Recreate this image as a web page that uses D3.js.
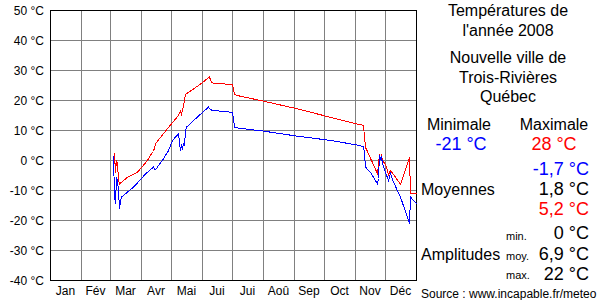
<!DOCTYPE html>
<html><head><meta charset="utf-8">
<script src="https://cdn.jsdelivr.net/npm/d3@7"></script>
<style>body{margin:0;background:#fff}svg{display:block}text{font-family:"Liberation Sans",Arial,sans-serif}</style>
</head><body>
<script>
const months = ["Jan","Fév","Mar","Avr","Mai","Jui","Jui","Aoû","Sep","Oct","Nov","Déc"];
const monthStarts = [0,31,60,91,121,152,182,213,244,274,305,335,366];
const yTicks = [50,40,30,20,10,0,-10,-20,-30,-40];
const maxDays  = [63,64,65,66,67,68,69,77,87,97,101,103,105,117,128,130,131,132,133,135,148,159,161,163,172,182,183,184,190,213,247,280,306,313,314,315,327,329,330,331,332,336,338,340,350,359,360,366];
const maxTemps = [2.2,2.2,-4.0,0.0,-1.0,-6.5,-7.8,-5.6,-3.9,0,2.3,3.0,5.6,10.6,15.0,16.5,15.5,17.0,18.0,22.0,25.0,27.8,26.0,25.8,25.6,25.2,24.0,22.0,21.4,19.8,17.2,14.4,12.2,11.7,7.8,4.4,-4.4,2.0,0.6,1.7,0.2,-2.0,-4.8,-3.3,-7.9,1.0,-10.9,-10.9];
const minDays  = [63,64,65,66,67,68,69,70,71,83,95,103,104,105,113,118,122,128,129,130,131,132,133,134,135,136,145,158,160,163,180,182,183,184,188,213,247,280,306,313,314,315,320,327,328,329,330,331,332,338,340,343,350,359,360,366];
const minTemps = [1.5,-11.7,-14.4,-5.6,-7.0,-10.0,-16.0,-13.5,-12.2,-8.9,-4.5,-2.2,-3.0,-3.1,0.6,3.3,6.7,8.9,6.1,3.3,5.0,4.0,5.5,5.0,10.0,11.1,13.9,17.8,16.9,16.7,16.1,16.1,13.9,11.1,10.8,9.8,8.1,6.7,5.2,4.6,2.2,-2.2,-4.0,-7.8,-6.0,1.7,0.5,1.2,-1.1,-6.7,-4.4,-7.2,-12.2,-21.0,-12.2,-14.4];

const W=600,H=300;
const svg=d3.select("body").append("svg").attr("width",W).attr("height",H);
const x=d3.scaleLinear().domain([0,366]).range([50,416]);
const y=d3.scaleLinear().domain([-40,50]).range([280,10]);

// grid
const g=svg.append("g").attr("shape-rendering","crispEdges");
g.selectAll("line.h").data(yTicks).join("line").attr("class","h")
 .attr("x1",x(0)).attr("x2",x(366)).attr("y1",d=>y(d)+0.5).attr("y2",d=>y(d)+0.5)
 .attr("stroke","#808080").attr("stroke-width",1);
g.selectAll("line.v").data(monthStarts.slice(1,-1)).join("line").attr("class","v")
 .attr("x1",d=>x(d)+0.5).attr("x2",d=>x(d)+0.5).attr("y1",y(50)).attr("y2",y(-40))
 .attr("stroke","#808080").attr("stroke-width",1);
g.append("rect").attr("x",x(0)+0.5).attr("y",y(50)+0.5).attr("width",x(366)-x(0)).attr("height",y(-40)-y(50))
 .attr("fill","none").attr("stroke","#000").attr("stroke-width",1);

// y labels
svg.selectAll("text.yl").data(yTicks).join("text").attr("class","yl")
 .attr("x",44).attr("y",d=>y(d)+5).attr("text-anchor","end").attr("font-size",12).text(d=>d+" °C");
// month labels
svg.selectAll("text.ml").data(months).join("text").attr("class","ml")
 .attr("x",(d,i)=>x((monthStarts[i]+monthStarts[i+1])/2)).attr("y",295).attr("text-anchor","middle")
 .attr("font-size",12).text(d=>d);

const line=d3.line().x(d=>x(d[0])+0.5).y(d=>y(d[1])+0.5);
svg.append("path").datum(maxDays.map((d,i)=>[d,maxTemps[i]])).attr("d",line)
 .attr("fill","none").attr("stroke","#ff0000").attr("stroke-width",1).attr("shape-rendering","crispEdges");
svg.append("path").datum(minDays.map((d,i)=>[d,minTemps[i]])).attr("d",line)
 .attr("fill","none").attr("stroke","#0000ff").attr("stroke-width",1).attr("shape-rendering","crispEdges");

// right panel
function t(txt,xx,yy,fs,anchor,col){svg.append("text").attr("x",xx).attr("y",yy).attr("font-size",fs)
 .attr("text-anchor",anchor||"start").attr("fill",col||"#000").text(txt);}
t("Températures de",508,16,16,"middle");
t("l'année 2008",508,36,16,"middle");
t("Nouvelle ville de",508,63,16,"middle");
t("Trois-Rivières",508,83,16,"middle");
t("Québec",508,102,16,"middle");
t("Minimale",459,130,16,"middle");
t("Maximale",554,130,16,"middle");
t("-21 °C",461,150,18,"middle","#0000ff");
t("28 °C",554,150,18,"middle","#ff0000");
t("-1,7 °C",589,175,18,"end","#0000ff");
t("1,8 °C",589,195,18,"end");
t("5,2 °C",589,215,18,"end","#ff0000");
t("Moyennes",421,195,16);
t("0 °C",589,239,18,"end");
t("6,9 °C",589,260,18,"end");
t("22 °C",589,280,18,"end");
t("Amplitudes",421,260,16);
t("min.",506,240,11);
t("moy.",506,260,11);
t("max.",506,279,11);
t("Source : www.incapable.fr/meteo",421,298,12);
</script>
</body></html>
